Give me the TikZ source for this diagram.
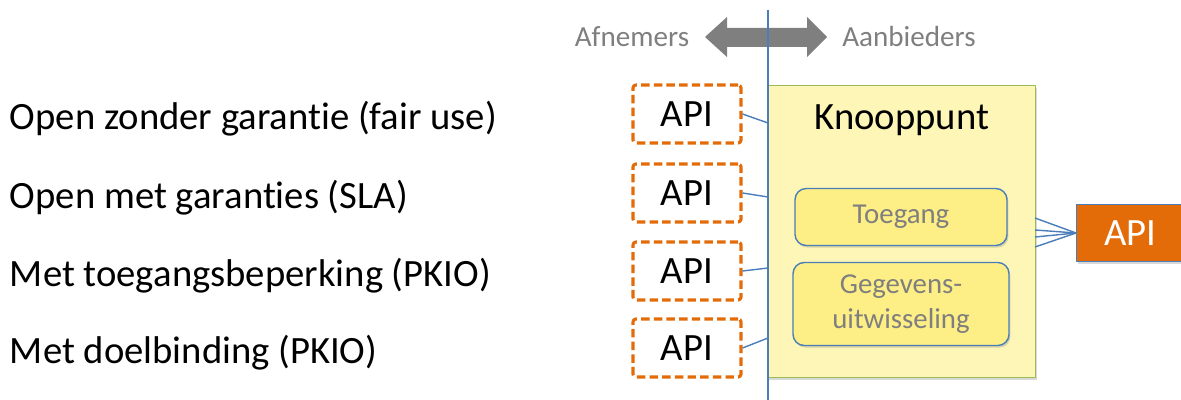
\documentclass[tikz,border=0pt]{standalone}
\usepackage{fontspec}
\setmainfont{Carlito}[Ligatures=NoCommon]
\usetikzlibrary{shadows,positioning}
\definecolor{lijnblauw}{HTML}{4A7EBB}
\definecolor{oranje}{HTML}{E36C09}
\definecolor{grijs}{HTML}{7F7F7F}
\definecolor{lichtgeel}{HTML}{FDF6B6}
\definecolor{geel}{HTML}{FDEE85}
\definecolor{groen}{HTML}{9BBB59}
\tikzset{
  apibox/.style={draw=oranje,line width=2.2pt,dash pattern=on 6pt off 3pt,rounded corners=2pt,minimum width=2.7cm,minimum height=1.45cm,font=\fontsize{27.5}{30}\selectfont},
  blok/.style={draw=lijnblauw,line width=1pt,fill=geel,rounded corners=8pt,text=grijs,font=\fontsize{20.5}{24}\selectfont,align=center,drop shadow={shadow xshift=1pt,shadow yshift=-1.5pt,opacity=0.3}},
  rij/.style={anchor=west,font=\fontsize{27.5}{30}\selectfont},
  kop/.style={text=grijs,font=\fontsize{20.7}{24}\selectfont},
  verbinding/.style={draw=lijnblauw,line width=1pt}
}
\begin{document}
\begin{tikzpicture}[x=0.025cm,y=-0.025cm,line join=round]
\useasboundingbox (0,0) rectangle (1181,400);
% kopregel met pijl
\fill[grijs] (705,37)--(727,17)--(727,28)--(807,28)--(807,17)--(827,37)--(807,57)--(807,47)--(727,47)--(727,57)--cycle;
\node[kop] (afn) at (632,37) {Afnemers};
\node[kop] (aanb) at (909,37) {Aanbieders};
% knooppunt
\node[draw=groen,line width=1pt,fill=lichtgeel,minimum width=6.7cm,minimum height=7.3cm,anchor=north west,drop shadow={shadow xshift=1pt,shadow yshift=-1.5pt,opacity=0.3}] (knoop) at (767,85) {};
\node[font=\fontsize{27.5}{30}\selectfont] (knooptitel) at (902,120) {Knooppunt};
\node[blok,minimum width=5.3cm,minimum height=1.425cm] (toegang) at (901,217) {Toegang};
\node[blok,minimum width=5.4cm,minimum height=2.075cm] (gegevens) at (901,304) {Gegevens-\\[1pt]uitwisseling};
% scheidingslijn
\draw[lijnblauw,line width=1pt] (768,10)--(768,400);
% rijen links
\foreach \y/\tekst/\yl [count=\i] in {114/{Open zonder garantie (fair use)}/123,193/{Open met garanties (SLA)}/197,271/{Met toegangsbeperking (PKIO)}/268,348/{Met doelbinding (PKIO)}/338}{
  \node[rij] (rij\i) at (5,\y+5) {\tekst};
  \node[apibox] (api\i) at (687,\y) {API};
  \coordinate (c\i) at (768,\yl);
  \draw[verbinding] (api\i.east)--(c\i);
}
% API naar buiten
\node[draw=lijnblauw,line width=1pt,fill=oranje,text=white,minimum width=3cm,minimum height=1.425cm,anchor=west,font=\fontsize{27.5}{30}\selectfont,drop shadow={shadow xshift=1pt,shadow yshift=-1.5pt,opacity=0.3},text width=1.9cm,align=left] (apiuit) at (1076,233) {\hspace*{4pt}API};
\foreach \y in {218,230,237,247}{\draw[verbinding] (1035,\y)--(apiuit.west);}
\end{tikzpicture}
\end{document}
